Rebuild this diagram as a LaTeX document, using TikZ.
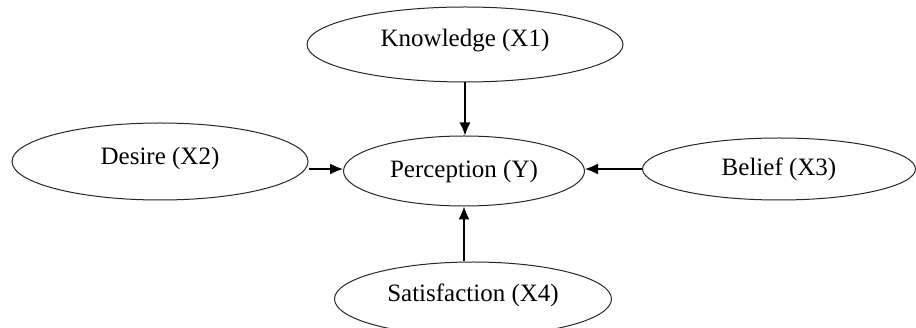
\documentclass[tikz,border=0pt]{standalone}
\usepackage{fontspec}
\setmainfont{Liberation Serif}
\usetikzlibrary{arrows.meta,positioning,shapes.geometric}

\begin{document}
\begin{tikzpicture}[x=1pt,y=-1pt,>={Latex[length=13pt,width=11pt]}]
	\tikzset{var/.style={draw=black!85, ellipse, line width=1pt, inner sep=0pt, text height=20pt, text depth=3.5pt, font=\fontsize{25}{30}\selectfont},
		link/.style={->, line width=1.3pt}}
	\useasboundingbox (0,0) rectangle (916,328);
	\node [var, minimum width=241pt, minimum height=70pt, text depth=7.5pt] (perc) at (464,171) {Perception (Y)};
	\node [var, minimum width=316pt, minimum height=75pt, text depth=15.5pt] (know) at (465,44.5) {Knowledge (X1)};
	\node [var, minimum width=296pt, minimum height=77pt, text depth=13.5pt] (desire) at (160,161.5) {Desire (X2)};
	\node [var, minimum width=273pt, minimum height=62pt, text depth=6.5pt] (belief) at (779,169) {Belief (X3)};
	\node [var, minimum width=277pt, minimum height=74pt, text depth=15.5pt] (satis) at (473,299) {Satisfaction (X4)};
	\draw [link] (know.south) -- (know.south |- perc.north);
	\draw [link] (desire.east |- belief.west) -- (perc.west |- belief.west);
	\draw [link] (belief.west) -- (belief.west -| perc.east);
	\draw [link] (satis.north -| perc.south) -- (perc.south);
\end{tikzpicture}
\end{document}
